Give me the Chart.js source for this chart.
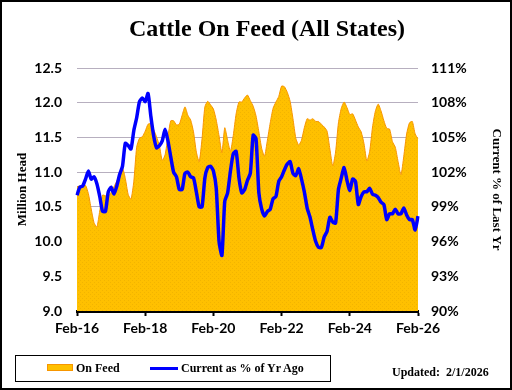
<!DOCTYPE html>
<html>
<head>
<meta charset="utf-8">
<title>Cattle On Feed (All States)</title>
<script src="https://cdn.jsdelivr.net/npm/chart.js@4.4.1/dist/chart.umd.min.js"></script>
<style>
    html, body { margin: 0; padding: 0; background: #fff; }
    #wrap { position: relative; width: 512px; height: 390px; overflow: hidden; background: #fff; }
    #chart { position: absolute; left: 0; top: 0; }
    #frame { position: absolute; left: 0; top: 0; width: 512px; height: 390px; box-sizing: border-box; border: 2px solid #000; pointer-events: none; }
    #title { position: absolute; left: 22px; width: 490px; top: 15px; text-align: center; font: bold 24px 'Liberation Serif', serif; color: #000; }
    #legend { position: absolute; left: 15px; top: 355px; width: 316px; height: 27px; box-sizing: border-box; border: 1.5px solid #000; font: bold 12px 'Liberation Serif', serif; color: #000; }
    #legend .sw { position: absolute; left: 31px; top: 8px; width: 26px; height: 7px; background: #ffc000; border: 1px solid #f79600; box-sizing: border-box; }
    #legend .ln { position: absolute; left: 134px; top: 11px; width: 28px; height: 3px; background: #0000ff; }
    #legend .t1 { position: absolute; left: 60px; top: 5px; }
    #legend .t2 { position: absolute; left: 165px; top: 5px; }
    #updated { position: absolute; left: 392px; top: 365px; font: bold 12px 'Liberation Serif', serif; color: #000; }
</style>
</head>
<body>
<div id="wrap">
    <canvas id="chart" width="512" height="390"></canvas>
    <div id="title">Cattle On Feed (All States)</div>
    <div id="legend">
        <div class="sw"></div><div class="t1">On Feed</div>
        <div class="ln"></div><div class="t2">Current as % of Yr Ago</div>
    </div>
    <div id="updated">Updated:&nbsp; 2/1/2026</div>
    <div id="frame"></div>
</div>
<script>
// Datos mensuales Feb-16 .. Feb-26
const startYear = 2016;
const monthNames = ['Feb', 'Mar', 'Apr', 'May', 'Jun', 'Jul', 'Aug', 'Sep', 'Oct', 'Nov', 'Dec', 'Jan'];
const tickEvery = 24;

// Cabezas en corral, millones
const onFeed = [
    10.79, 10.80, 10.80, 10.81, 10.69, 10.47, 10.27, 10.21, 10.44, 10.67, 10.66, 10.65,
    10.71, 10.79, 10.87, 10.97, 11.06, 10.91, 10.68, 10.61, 10.87, 11.36, 11.49, 11.51,
    11.59, 11.69, 11.70, 11.61, 11.51, 11.38, 11.17, 11.25, 11.51, 11.74, 11.74, 11.68,
    11.69, 11.82, 11.94, 11.82, 11.75, 11.58, 11.29, 11.15, 11.48, 11.94, 12.02, 11.97,
    11.91, 11.75, 11.52, 11.28, 11.64, 11.46, 11.30, 11.53, 11.84, 12.01, 12.01, 12.07,
    12.11, 12.03, 11.95, 11.81, 11.58, 11.34, 11.23, 11.46, 11.71, 11.92, 12.01, 12.09,
    12.24, 12.23, 12.15, 12.02, 11.77, 11.49, 11.39, 11.46, 11.64, 11.77, 11.75, 11.77,
    11.73, 11.73, 11.69, 11.65, 11.59, 11.33, 11.09, 11.29, 11.71, 11.92, 12.01, 11.93,
    11.83, 11.84, 11.75, 11.65, 11.58, 11.41, 11.16, 11.30, 11.65, 11.88, 11.98, 11.88,
    11.74, 11.63, 11.62, 11.44, 11.36, 11.15, 10.96, 11.23, 11.55, 11.71, 11.73, 11.55,
    11.48
];

// Actual como % del año anterior
const pctYrAgo = [
    100.0, 100.7, 100.8, 101.4, 102.1, 101.4, 101.6, 101.0, 99.9, 98.6, 98.6, 100.3,
    100.7, 100.1, 100.8, 101.8, 102.5, 104.5, 104.3, 104.0, 105.6, 106.7, 108.1, 108.4,
    108.1, 108.8, 106.8, 105.1, 104.1, 104.3, 104.7, 105.7, 104.7, 103.3, 102.0, 101.6,
    100.5, 100.5, 101.9, 102.0, 101.6, 101.5, 100.3, 99.0, 99.0, 101.5, 102.4, 102.5,
    102.1, 100.6, 96.0, 94.8, 99.5, 100.2, 102.1, 103.6, 103.8, 101.5, 100.2, 100.5,
    101.3, 101.9, 105.2, 104.9, 100.2, 98.8, 98.2, 98.6, 98.8, 99.7, 99.9, 101.2,
    101.6, 102.2, 102.7, 102.9, 101.9, 101.7, 102.3, 101.4, 100.3, 98.9, 98.1, 97.0,
    96.0, 95.5, 95.5, 96.4, 96.9, 98.1, 97.7, 97.6, 100.5, 101.5, 102.4, 101.3,
    100.4, 101.4, 101.2, 99.2, 99.9, 100.3, 100.3, 100.6, 100.1, 100.0, 99.8, 99.4,
    99.2, 97.9, 98.4, 98.4, 98.8, 98.4, 98.4, 98.9, 98.3, 97.9, 97.9, 97.0,
    98.2
];

// Etiquetas de categoría: Feb-16, Mar-16, ...
const labels = onFeed.map((_, i) => {
    const m = monthNames[i % 12];
    const y = startYear + Math.floor((i + 1) / 12);
    return m + '-' + String(y).slice(-2);
});

// Textura punteada del relleno naranja
function makePattern() {
    const c = document.createElement('canvas');
    c.width = 4;
    c.height = 4;
    const g = c.getContext('2d');
    g.fillStyle = '#ffc000';
    g.fillRect(0, 0, 4, 4);
    g.fillStyle = '#f2b400';
    g.fillRect(0, 0, 1, 1);
    g.fillRect(2, 2, 1, 1);
    return g.createPattern(c, 'repeat');
}

const tickFont = { family: "Lato, 'Liberation Sans', sans-serif", size: 14, weight: 'bold' };
const axisTitleFont = { family: "'Liberation Serif', serif", size: 13, weight: 'bold' };

new Chart(document.getElementById('chart'), {
    type: 'line',
    data: {
        labels: labels,
        datasets: [
            {
                label: 'Current as % of Yr Ago',
                data: pctYrAgo,
                yAxisID: 'y1',
                borderColor: '#0000ff',
                borderWidth: 3.5,
                pointRadius: 0,
                tension: 0.2,
                fill: false,
                order: 0
            },
            {
                label: 'On Feed',
                data: onFeed,
                yAxisID: 'y',
                borderColor: '#f79600',
                borderWidth: 1,
                backgroundColor: makePattern(),
                pointRadius: 0,
                tension: 0.2,
                fill: 'start',
                order: 1
            }
        ]
    },
    options: {
        responsive: false,
        animation: false,
        devicePixelRatio: 1,
        layout: { padding: { top: 68, left: 0, right: 0, bottom: 0 } },
        plugins: {
            legend: { display: false },
            tooltip: { enabled: false }
        },
        scales: {
            x: {
                type: 'category',
                grid: {
                    drawOnChartArea: false,
                    drawTicks: true,
                    tickLength: 5,
                    tickWidth: 2,
                    tickColor: ctx => (ctx.index % tickEvery === 0 ? '#000' : 'rgba(0,0,0,0)')
                },
                border: { display: true, color: '#000', width: 3 },
                ticks: {
                    autoSkip: false,
                    maxRotation: 0,
                    padding: 4,
                    color: '#000',
                    font: tickFont,
                    callback: (v, i) => (i % tickEvery === 0 ? labels[i] : '')
                },
                afterFit: s => { s.height = 79; }
            },
            y: {
                position: 'left',
                min: 9,
                max: 12.5,
                grid: { color: '#b7afbf', lineWidth: 1, drawTicks: false },
                border: { display: false },
                ticks: {
                    stepSize: 0.5,
                    padding: 15,
                    color: '#000',
                    font: tickFont,
                    callback: v => v.toFixed(1)
                },
                title: {
                    display: true,
                    text: 'Million Head',
                    color: '#000',
                    font: axisTitleFont,
                    padding: { top: 15, bottom: 0 }
                },
                afterFit: s => { s.width = 77; }
            },
            y1: {
                position: 'right',
                min: 90,
                max: 111,
                grid: { drawOnChartArea: false, drawTicks: false },
                border: { display: false },
                ticks: {
                    stepSize: 3,
                    padding: 13,
                    color: '#000',
                    font: tickFont,
                    callback: v => v + '%'
                },
                title: {
                    display: true,
                    text: 'Current % of Last Yr',
                    color: '#000',
                    font: axisTitleFont,
                    padding: { top: 8, bottom: 0 }
                },
                afterFit: s => { s.width = 94; }
            }
        }
    }
});
</script>
</body>
</html>
